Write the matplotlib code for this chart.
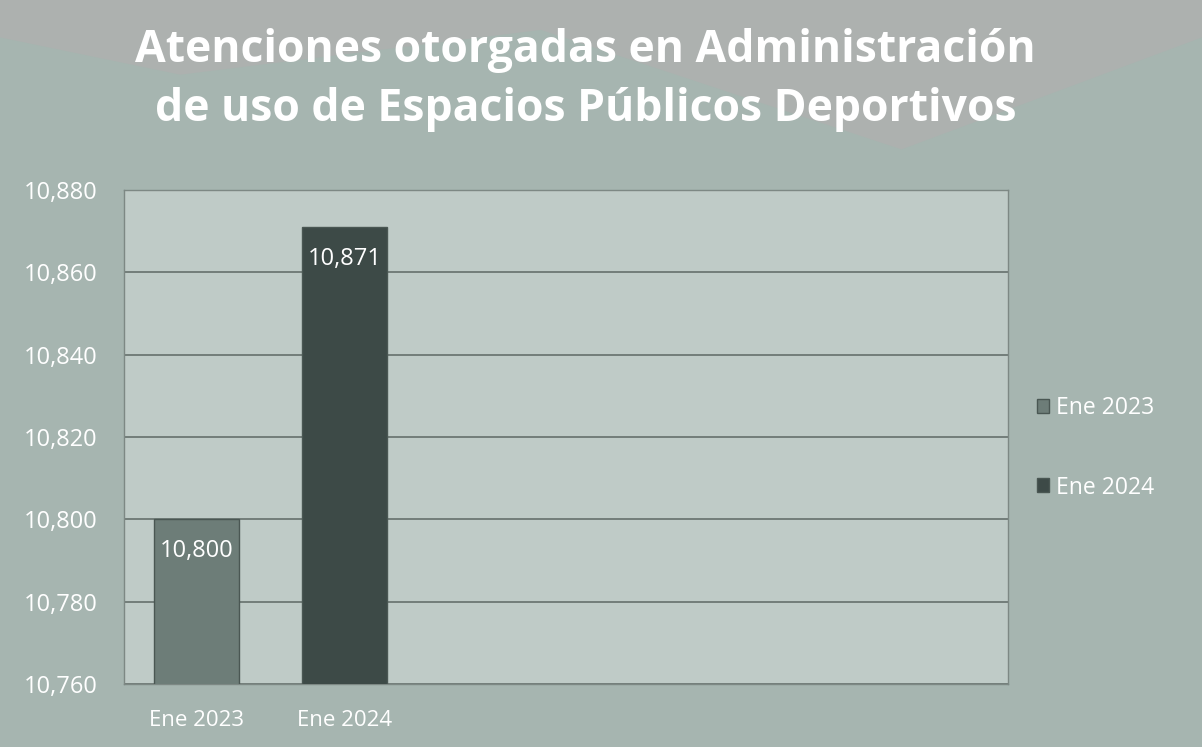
import matplotlib.pyplot as plt
from matplotlib.patches import Polygon
from matplotlib.ticker import FuncFormatter

categories = ['Ene 2023', 'Ene 2024']
values = [10800, 10871]
colors = ['#6d7d78', '#3d4a47']
yticks = [10760, 10780, 10800, 10820, 10840, 10860, 10880]

plt.rcParams['font.family'] = ['Open Sans', 'DejaVu Sans']

fig = plt.figure(figsize=(12.02, 7.47), dpi=100)
fig.patch.set_facecolor('#a6b5b0')

# grey band at the top of the slide
band = Polygon([[0, 1], [1, 1], [1, 0.95], [0.75, 0.80], [0.45, 0.96], [0.15, 0.90], [0, 0.95]],
               closed=True, transform=fig.transFigure, facecolor='#adb1af', edgecolor='none', zorder=0)
fig.patches.append(band)

ax = fig.add_axes([124 / 1202, 1 - 684 / 747, 884 / 1202, 494 / 747])
ax.set_facecolor('#bfcbc7')

x = list(range(len(categories)))
bars = ax.bar(x, values, width=0.57, color=colors, edgecolor='#4a5753', linewidth=1, zorder=3)

ax.set_ylim(10760, 10880)
ax.set_xlim(-0.49, 5.48)
ax.set_yticks(yticks)
ax.yaxis.set_major_formatter(FuncFormatter(lambda v, p: f'{int(v):,}'))
ax.set_xticks(x)
ax.set_xticklabels(categories)
ax.tick_params(colors='white', length=0)
ax.tick_params(axis='y', labelsize=17, pad=19)
ax.tick_params(axis='x', labelsize=16, pad=19)
ax.grid(axis='y', color='#6c7773', linewidth=1.3, zorder=1)
for s in ax.spines.values():
    s.set_color('#7d8884')
    s.set_linewidth(1)

for b, v in zip(bars, values):
    ax.text(b.get_x() + b.get_width() / 2, v - 7.8, f'{v:,}', ha='center', va='center',
            color='white', fontsize=17, zorder=4)

fig.text(0.487, 0.932, 'Atenciones otorgadas en Administración', ha='center', va='center',
         color='white', fontsize=32, fontweight='bold')
fig.text(0.487, 0.854, 'de uso de Espacios Públicos Deportivos', ha='center', va='center',
         color='white', fontsize=32, fontweight='bold')

fig.legend(handles=list(bars), labels=categories, loc='center left',
           bbox_to_anchor=(1016 / 1202, 1 - 448 / 747), frameon=False, fontsize=16.5,
           labelcolor='white', labelspacing=2.4, handlelength=0.55, handleheight=0.55,
           handletextpad=0.3)

plt.savefig('out.png', dpi=100, facecolor=fig.get_facecolor())
